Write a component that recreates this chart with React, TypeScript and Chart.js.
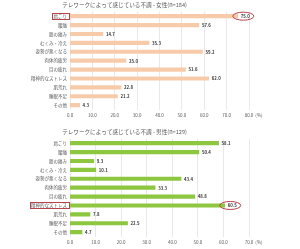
import React, { useEffect, useRef } from "react";
import { Chart, registerables } from "chart.js";

Chart.register(...registerables);

const categories = [
  "肩こり",
  "腰痛",
  "膝の痛み",
  "むくみ・冷え",
  "姿勢が悪くなる",
  "肉体的疲労",
  "目の疲れ",
  "精神的なストレス",
  "肌荒れ",
  "睡眠不足",
  "その他",
];
const femaleValues = [75.0, 57.6, 14.7, 35.3, 59.2, 25.0, 51.6, 62.0, 22.8, 21.2, 4.3];
const maleValues = [58.1, 50.4, 9.3, 10.1, 43.4, 33.3, 48.8, 60.5, 7.8, 22.5, 4.7];
const femaleTitle = "テレワークによって感じている不調 - 女性(n=184)";
const maleTitle = "テレワークによって感じている不調 - 男性(n=129)";
const femaleAxisMax = 80;
const maleAxisMax = 70;
const axisStep = 10;
const axisUnit = "(%)";
const femaleHighlight = 0;
const maleHighlight = 7;

const FONT = "'Noto Sans CJK JP', 'Noto Sans', sans-serif";
const TICK_SIZE = 4.5;
const LABEL_SIZE = 4.3;
const RED = "#B8434A";

function makeAnnot(highlightIndex: number) {
  return {
    id: "annot",
    afterDatasetsDraw(chart: any) {
      const ctx = chart.ctx as CanvasRenderingContext2D;
      const meta = chart.getDatasetMeta(0);
      const data = chart.data.datasets[0].data as number[];
      ctx.save();
      // value labels
      ctx.font = `bold ${LABEL_SIZE}px ${FONT}`;
      ctx.fillStyle = "#3a3a3a";
      ctx.textBaseline = "middle";
      ctx.textAlign = "left";
      meta.data.forEach((bar: any, i: number) => {
        const txt = Number(data[i]).toFixed(1);
        const x = bar.x + 3;
        ctx.fillText(txt, x, bar.y + 0.3);
        if (i === highlightIndex) {
          const w = ctx.measureText(txt).width;
          const x0 = bar.x - 5;
          const x1 = x + w + 4;
          ctx.beginPath();
          ctx.strokeStyle = RED;
          ctx.lineWidth = 1;
          ctx.ellipse((x0 + x1) / 2, bar.y, (x1 - x0) / 2, 4, 0, 0, Math.PI * 2);
          ctx.stroke();
        }
      });
      // box around highlighted category label
      const hb = meta.data[highlightIndex];
      ctx.font = `${TICK_SIZE}px ${FONT}`;
      const lw = ctx.measureText(categories[highlightIndex]).width;
      const right = chart.chartArea.left - 1;
      const left = chart.chartArea.left - 3 - lw - 1.5;
      ctx.strokeStyle = RED;
      ctx.lineWidth = 1;
      ctx.strokeRect(Math.round(left) + 0.5, Math.round(hb.y - 3.2) + 0.5, Math.round(right - left), 6);
      // unit after last x tick
      const xScale = chart.scales.x;
      const maxV = xScale.max;
      const px = xScale.getPixelForValue(maxV);
      ctx.fillStyle = "#595959";
      const tw = ctx.measureText(maxV.toFixed(1)).width;
      ctx.textAlign = "left";
      ctx.textBaseline = "middle";
      ctx.fillText(axisUnit, px + tw / 2 + 2, xScale.top + 3 + (TICK_SIZE * 1.2) / 2);
      ctx.restore();
    },
  };
}

function BarPanel(props: {
  values: number[];
  title: string;
  max: number;
  color: string;
  height: number;
  titleTop: number;
  highlight: number;
}) {
  const ref = useRef<HTMLCanvasElement | null>(null);
  useEffect(() => {
    if (!ref.current) return;
    const chart = new Chart(ref.current, {
      type: "bar",
      data: {
        labels: categories,
        datasets: [
          {
            data: props.values,
            backgroundColor: props.color,
            barThickness: 3.5,
            borderWidth: 0,
          },
        ],
      },
      options: {
        indexAxis: "y",
        responsive: false,
        animation: false,
        devicePixelRatio: 1,
        layout: { padding: { left: 0, right: 51, top: 0, bottom: 1 } },
        plugins: {
          legend: { display: false },
          tooltip: { enabled: false },
          title: {
            display: true,
            text: props.title,
            color: "#595959",
            font: { family: FONT, size: 5.6, weight: "normal" },
            padding: { top: props.titleTop, bottom: 3 },
          },
        },
        scales: {
          x: {
            min: 0,
            max: props.max,
            ticks: {
              stepSize: axisStep,
              color: "#595959",
              font: { family: FONT, size: TICK_SIZE },
              padding: 3,
              callback: (v: any) => Number(v).toFixed(1),
              maxRotation: 0,
            },
            grid: { color: "#E3E3E3", lineWidth: 0.8, drawTicks: false },
            border: { display: false },
          },
          y: {
            ticks: {
              color: "#595959",
              font: { family: FONT, size: TICK_SIZE },
              padding: 3,
              autoSkip: false,
            },
            grid: { display: false, drawTicks: false },
            border: { display: false },
            afterFit: (s: any) => {
              s.width = 70;
            },
          },
        },
      },
      plugins: [makeAnnot(props.highlight)],
    } as any);
    return () => chart.destroy();
  }, []);
  return <canvas ref={ref} width={300} height={props.height} style={{ display: "block" }} />;
}

export default function App() {
  return (
    <div style={{ position: "absolute", left: 0, top: 0, width: 300, height: 249, background: "#fff" }}>
      <BarPanel
        values={femaleValues}
        title={femaleTitle}
        max={femaleAxisMax}
        color="#F7CBAA"
        height={122}
        titleTop={2}
        highlight={femaleHighlight}
      />
      <BarPanel
        values={maleValues}
        title={maleTitle}
        max={maleAxisMax}
        color="#8DC63F"
        height={127}
        titleTop={7}
        highlight={maleHighlight}
      />
    </div>
  );
}
